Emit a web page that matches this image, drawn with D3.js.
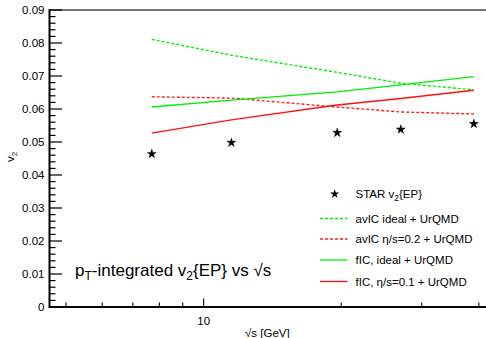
<!DOCTYPE html>
<html><head><meta charset="utf-8">
<script src="https://cdn.jsdelivr.net/npm/d3@7"></script>
<style>
html,body{margin:0;padding:0;background:#fff;}
svg{display:block;}
text{font-family:"Liberation Sans",Arial,Helvetica,sans-serif;fill:#000;}
</style></head>
<body>
<svg id="c" width="486" height="338"></svg>
<script>
// data
const energies = [7.7, 11.5, 19.6, 27, 39];
const starV2 = [0.0464, 0.0498, 0.0528, 0.0538, 0.0555];
const avicIdeal = [0.0811, 0.0763, 0.0711, 0.0678, 0.0658];
const avicEta02 = [0.0637, 0.0633, 0.0606, 0.0591, 0.0585];
const ficIdeal = [0.0606, 0.0627, 0.0652, 0.0673, 0.0698];
const ficEta01 = [0.0527, 0.0567, 0.0612, 0.0632, 0.0657];
const xMinorTicks = [5, 6, 7, 8, 9, 20, 30, 40];
const xMajorTicks = [10];
const yTicks = [0, 0.01, 0.02, 0.03, 0.04, 0.05, 0.06, 0.07, 0.08, 0.09];
const legendLabels = ["avIC ideal + UrQMD", "avIC \u03b7/s=0.2 + UrQMD", "fIC, ideal + UrQMD", "fIC, \u03b7/s=0.1 + UrQMD"];

const svg = d3.select("#c");
const L = 49.5, T = 10, B = 307;
const x = d3.scaleLog().domain([4.6, 44.5]).range([L, 500]);
const y = d3.scaleLinear().domain([0, 0.09]).range([B, T]);

// top frame
svg.append("line").attr("x1", L).attr("x2", 500).attr("y1", T).attr("y2", T)
  .attr("stroke", "#444").attr("stroke-width", 1.6);

// series lines
const series = [
  {v: avicIdeal, c: "#00ee00", dash: "3,2"},
  {v: avicEta02, c: "#ff2020", dash: "3,2"},
  {v: ficIdeal, c: "#00ee00", dash: null},
  {v: ficEta01, c: "#ff1010", dash: null}
];
const line = d3.line().x(d => x(d[0])).y(d => y(d[1]));
series.forEach(s => {
  svg.append("path").attr("d", line(energies.map((e, i) => [e, s.v[i]])))
    .attr("fill", "none").attr("stroke", s.c).attr("stroke-width", 1.4)
    .attr("stroke-dasharray", s.dash);
});

// stars
const star = d3.symbol().type(d3.symbolStar).size(26);
svg.selectAll(".st").data(energies).enter().append("path")
  .attr("d", star).attr("transform", (d, i) => `translate(${x(d)},${y(starV2[i])})`)
  .attr("fill", "#000").attr("stroke", "#000").attr("stroke-width", 0.4);

// y axis
const yAx = d3.axisLeft(y).tickValues(yTicks).tickSize(0).tickPadding(5)
  .tickFormat(d => d === 0 ? "0" : d3.format(".2f")(d));
const gy = svg.append("g").attr("transform", `translate(${L},0)`).call(yAx);
gy.select(".domain").remove();
gy.selectAll("text").attr("font-size", "11.5px").attr("font-family", "Liberation Sans, Arial, sans-serif").attr("fill", "#222");
const yMinor = d3.range(0, 0.0901, 0.002);
svg.selectAll(".ym").data(yMinor).enter().append("line")
  .attr("x1", L).attr("x2", (d, i) => L + (i % 5 === 0 ? 12.5 : 6))
  .attr("y1", d => y(d)).attr("y2", d => y(d)).attr("stroke", "#000").attr("stroke-width", 1.2);
svg.append("line").attr("x1", L).attr("x2", L).attr("y1", T - 0.8).attr("y2", B + 1)
  .attr("stroke", "#000").attr("stroke-width", 2);

// x axis
svg.append("line").attr("x1", L).attr("x2", 500).attr("y1", B).attr("y2", B)
  .attr("stroke", "#000").attr("stroke-width", 2);
svg.selectAll(".xm").data(xMinorTicks).enter().append("line")
  .attr("x1", d => x(d)).attr("x2", d => x(d)).attr("y1", B).attr("y2", B - 4.5)
  .attr("stroke", "#000").attr("stroke-width", 1.1);
svg.selectAll(".xM").data(xMajorTicks).enter().append("line")
  .attr("x1", d => x(d)).attr("x2", d => x(d)).attr("y1", B).attr("y2", B - 8.5)
  .attr("stroke", "#000").attr("stroke-width", 1.1);
svg.selectAll(".xl").data(xMajorTicks).enter().append("text")
  .attr("x", d => x(d)).attr("y", 324.5).attr("text-anchor", "middle")
  .attr("font-size", "11.5px").attr("fill", "#222").text(d => d);

// axis titles
svg.append("text").attr("x", 245).attr("y", 336.5).attr("font-size", "11.5px").attr("fill", "#222")
  .text("\u221As  [GeV]");
const yt = svg.append("text").attr("transform", "translate(14,162) rotate(-90)").attr("font-size", "11.5px").attr("fill", "#222");
yt.append("tspan").text("v");
yt.append("tspan").attr("dy", 3).attr("font-size", "8px").text("2");

// in-plot title
const tt = svg.append("text").attr("x", 75).attr("y", 276).attr("font-size", "17px");
tt.append("tspan").text("p");
tt.append("tspan").attr("dy", 4).attr("font-size", "12px").text("T");
tt.append("tspan").attr("dy", -4).text("-integrated v");
tt.append("tspan").attr("dy", 4).attr("font-size", "12px").text("2");
tt.append("tspan").attr("dy", -4).text("{EP} vs  \u221As");

// legend
const lgY = [194, 218.5, 239, 260, 281.5];
svg.append("path").attr("d", star).attr("transform", `translate(334.7,${lgY[0]})`).attr("fill", "#000");
const lt0 = svg.append("text").attr("x", 355.5).attr("y", lgY[0] + 4).attr("font-size", "11.5px");
lt0.append("tspan").text("STAR v");
lt0.append("tspan").attr("dy", 3).attr("font-size", "8.5px").text("2");
lt0.append("tspan").attr("dy", -3).text("{EP}");
series.forEach((s, i) => {
  const yy = lgY[i + 1];
  svg.append("line").attr("x1", 320).attr("x2", 347.5).attr("y1", yy).attr("y2", yy)
    .attr("stroke", s.c).attr("stroke-width", 1.3).attr("stroke-dasharray", s.dash);
  svg.append("text").attr("x", 355.5).attr("y", yy + 4).attr("font-size", "11.5px").text(legendLabels[i]);
});
</script>
</body></html>
